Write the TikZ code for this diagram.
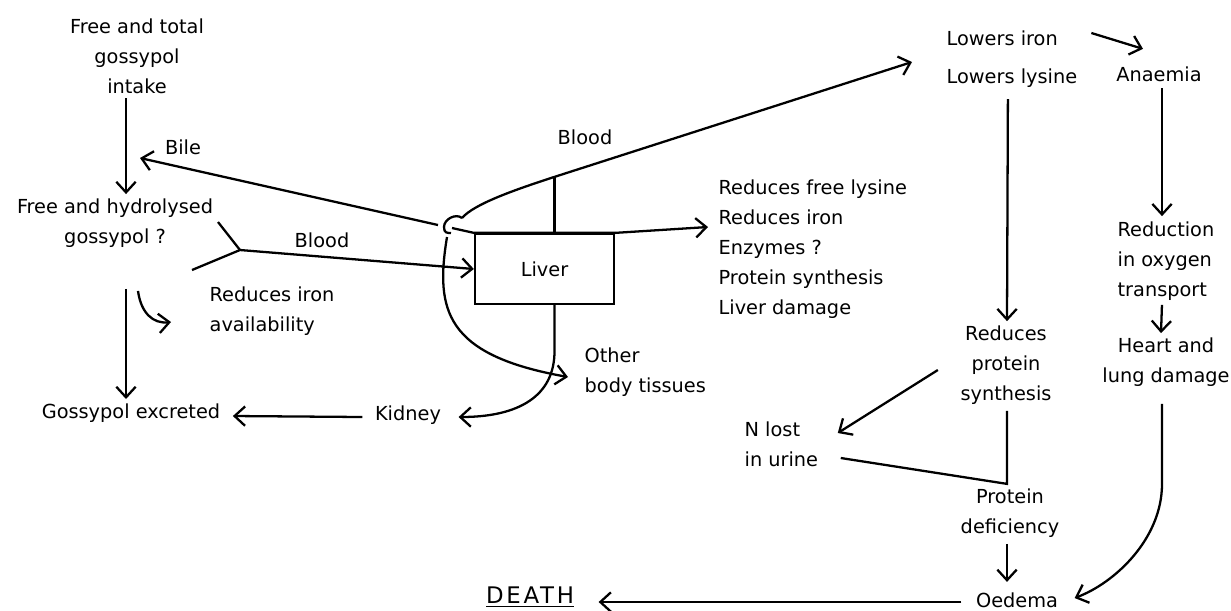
\documentclass[tikz,border=0pt]{standalone}
\usepackage{fontspec}
\setmainfont{DejaVu Sans}
\usetikzlibrary{arrows.meta}

\begin{document}
\begin{tikzpicture}[x=0.02cm, y=-0.02cm, line width=1.3pt,
    >={Straight Barb[length=6pt,width=11pt]},
    lbl/.style={align=center, inner sep=2pt, font=\fontsize{11}{17}\selectfont},
    lft/.style={lbl, align=left, anchor=west},
    organ/.style={draw, lbl, minimum width=2.78cm, minimum height=1.4cm}]
    \useasboundingbox (0, 0) rectangle (1231, 610);

    % gut side
    \node[lbl] at (137, 56) (intake) {Free and total\\gossypol\\intake};
    \node[lbl] at (115, 223) (hydro) {Free and hydrolysed\\gossypol ?};
    \node[lbl] at (131, 413) (excreted) {Gossypol excreted};
    \node[lft] at (205, 311) (ironavail) {Reduces iron\\availability};
    \node[lbl] at (183, 147) (bile) {Bile};
    \node[lbl] at (322, 240) (bloodin) {Blood};

    % liver and blood
    \node[organ] at (544.5, 269) (liver) {Liver};
    \node[lbl] at (585, 137) (bloodout) {Blood};
    \node[lft] at (580, 372) (othertis) {Other\\body tissues};
    \node[lbl] at (408, 415) (kidney) {Kidney};
    \node[lft] at (714, 249) (effects) {Reduces free lysine\\Reduces iron\\Enzymes ?\\Protein synthesis\\Liver damage};

    % right side
    \node[lft] at (942, 38) (lowiron) {Lowers iron};
    \node[lft] at (942, 78) (lowlys) {Lowers lysine};
    \node[lbl] at (1159, 74) (anaemia) {Anaemia};
    \node[lft] at (1113, 261) (reduction) {Reduction\\in oxygen\\transport};
    \node[lbl] at (1166, 362) (heart) {Heart and\\lung damage};
    \node[lbl] at (1006, 365) (redprot) {Reduces\\protein\\synthesis};
    \node[lft] at (740, 444) (nlost) {N lost\\in urine};
    \node[lbl] at (1010, 513) (protdef) {Protein\\deficiency};
    \node[lbl] at (1017, 600) (oedema) {Oedema};
    \node[lbl] at (530, 597) (death) {\fontsize{13}{15}\selectfont\addfontfeature{LetterSpace=12}\underline{DEATH}};

    \coordinate (hub) at (450, 227);
    \coordinate (yj) at (240, 250);

    \draw[->] ([shift={(-11,0)}]intake.south) -- ([shift={(11,0)}]hydro.north);
    \draw[->] ([shift={(11,37)}]hydro.south) -- ([shift={(-5,0)}]excreted.north);
    \draw[->] ([shift={(23,39)}]hydro.south) .. controls +(3,22) and +(-18,2) .. ([shift={(-34,11)}]ironavail.west);
    \draw[->] ([shift={(-12,-2)}]hub) -- ([shift={(25,-65)}]hydro.center);

    \draw (yj) -- ++(-22,-28);
    \draw (yj) -- ++(-48,20);
    \draw[->] (yj) -- (liver.west);

    % loop where the blood leaves the liver
    \draw ([shift={(12,-9)}]hub) .. controls +(-6,-5) and +(0,-8) .. ([shift={(-6,0)}]hub)
        .. controls +(0,6) and +(-4,0) .. ([shift={(1,6)}]hub);
    \draw[->] ([shift={(12,-9)}]hub) .. controls +(12,-14) and +(-40,13) .. ([shift={(10,-56)}]liver.north)
        -- ([shift={(-30,-16)}]lowlys.west);
    \draw ([shift={(10,0)}]liver.north) -- ++(0,-56);
    \draw ([shift={(2,1)}]hub) -- (liver.north west) -- (liver.north east);
    \draw[->] (liver.north east) -- ([shift={(-6,-22)}]effects.west);
    \draw[->] ([shift={(-3,10)}]hub) .. controls +(-12,73) and +(-123,-22) .. ([shift={(-12,5)}]othertis.west);
    \draw[->] ([shift={(10,0)}]liver.south) -- ++(0,46) .. controls +(0,45) and +(60,0) .. ([shift={(13,2)}]kidney.east);
    \draw[->] ([shift={(-8,2)}]kidney.west) -- ([shift={(8,3)}]excreted.east);

    \draw[->] ([shift={(29,-5)}]lowiron.east) -- ([shift={(-16,-13)}]anaemia.north);
    \draw[->] ([shift={(3,2)}]anaemia.south) -- ++(0,128);
    \draw[->] ([shift={(-4,0)}]reduction.south) -- ([shift={(-5,0)}]heart.north);
    \draw[->] ([shift={(-4,13)}]heart.south) -- ++(0,80) .. controls +(0,55) and +(40,-15) .. ([shift={(12,-2)}]oedema.east);

    \draw[->] ([shift={(-4,7)}]lowlys.south) -- ([shift={(1,0)}]redprot.north);
    \draw[->] ([shift={(-18,5)}]redprot.west) -- ([shift={(15,-11)}]nlost.east);
    \draw ([shift={(1,2)}]redprot.south) -- ++(0,73) -- ([shift={(18,14)}]nlost.east);
    \draw[->] ([shift={(-3,2)}]protdef.south) -- ([shift={(-10,-6)}]oedema.north);
    \draw[->] ([shift={(-10,2)}]oedema.west) -- ([shift={(20,5)}]death.east);
\end{tikzpicture}
\end{document}
